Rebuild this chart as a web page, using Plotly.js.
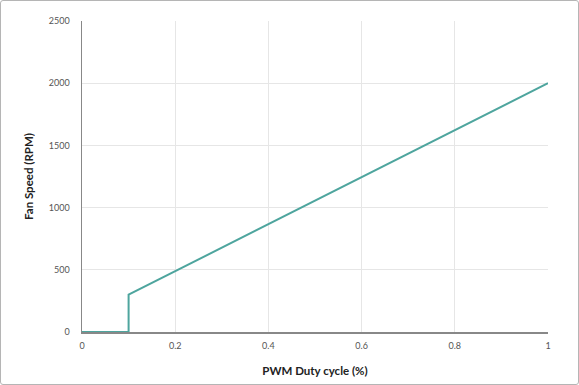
<!DOCTYPE html>
<html><head><meta charset="utf-8">
<script src="https://cdn.plot.ly/plotly-3.0.1.min.js"></script>
<style>
html,body{margin:0;padding:0;background:#fff;}
#frame{position:absolute;left:0;top:0;width:579px;height:385px;box-sizing:border-box;border:1px solid #b5b5b5;border-radius:3px;}
#chart{position:absolute;left:0;top:0;width:579px;height:385px;}
</style></head>
<body>
<div id="chart"></div>
<div id="frame"></div>
<script>
var dutyCycle = [0, 0.1, 0.1, 1];
var fanSpeed = [0, 0, 300, 2000];
var xTicks = [0, 0.2, 0.4, 0.6, 0.8, 1];
var yTicks = [0, 500, 1000, 1500, 2000, 2500];

var trace = {
  x: dutyCycle, y: fanSpeed, type: 'scatter', mode: 'lines',
  line: {color: '#4ea59e', width: 2}, hoverinfo: 'none'
};
var layout = {
  width: 579, height: 385,
  margin: {l: 82, r: 31, t: 21, b: 53},
  paper_bgcolor: '#ffffff', plot_bgcolor: '#ffffff',
  font: {family: 'Lato, "Open Sans", sans-serif', size: 9, color: '#555'},
  showlegend: false,
  xaxis: {
    range: [0, 1], tickvals: xTicks, ticktext: xTicks.map(String),
    showgrid: true, gridcolor: '#e6e6e6', gridwidth: 1,
    zeroline: false, showline: true, linecolor: '#888', linewidth: 1.5,
    ticks: 'outside', ticklen: 5, tickcolor: 'rgba(0,0,0,0)',
    tickfont: {size: 9, color: '#555'},
    title: {text: 'PWM Duty cycle (%)', font: {size: 11.5, color: '#222', weight: 'bold'}, standoff: 16}
  },
  yaxis: {
    range: [0, 2500], tickvals: yTicks, ticktext: yTicks.map(String),
    showgrid: true, gridcolor: '#e6e6e6', gridwidth: 1,
    zeroline: false, showline: true, linecolor: '#888', linewidth: 1.5,
    ticks: 'outside', ticklen: 9, tickcolor: 'rgba(0,0,0,0)',
    tickfont: {size: 9, color: '#555'},
    title: {text: 'Fan Speed (RPM)', font: {size: 11.5, color: '#222', weight: 'bold'}, standoff: 13}
  }
};
Plotly.newPlot('chart', [trace], layout, {staticPlot: true, displayModeBar: false});
</script>
</body></html>
